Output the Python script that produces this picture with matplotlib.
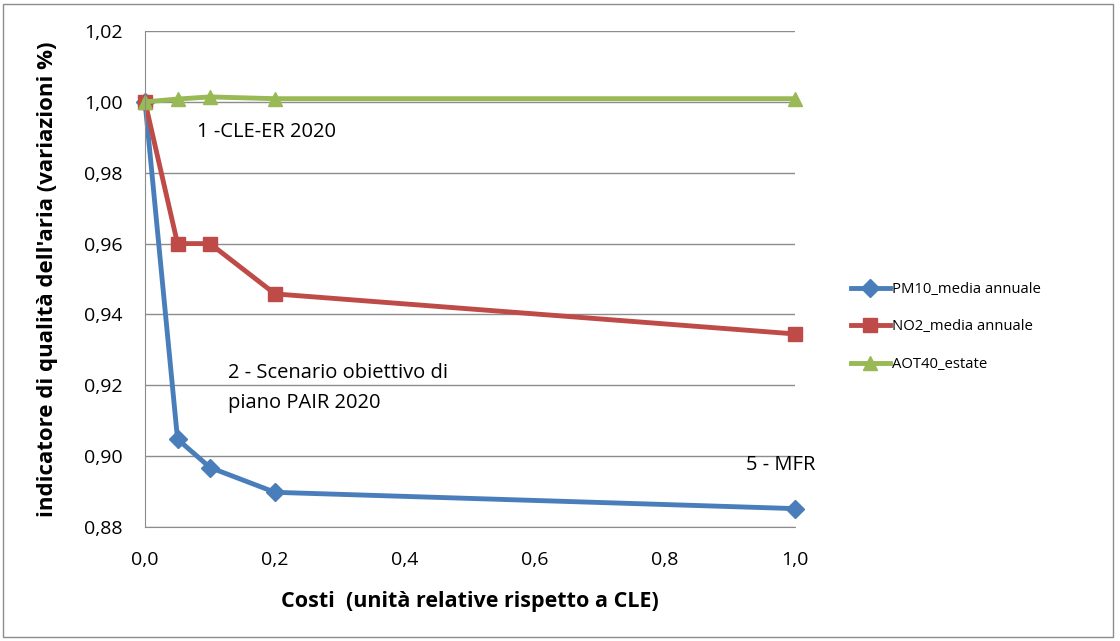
import matplotlib.pyplot as plt
import matplotlib.ticker as mticker
from matplotlib.patches import Rectangle

plt.rcParams["font.family"] = ["Open Sans", "DejaVu Sans"]

costs = [0.0, 0.05, 0.1, 0.2, 1.0]
pm10 = [1.0, 0.9048, 0.8968, 0.8898, 0.8852]
no2 = [1.0, 0.9600, 0.9600, 0.9458, 0.9345]
aot40 = [1.0, 1.0008, 1.0014, 1.0009, 1.0009]

yticks = [0.88, 0.90, 0.92, 0.94, 0.96, 0.98, 1.00, 1.02]
xticks = [0.0, 0.2, 0.4, 0.6, 0.8, 1.0]

fig = plt.figure(figsize=(11.2, 6.41), dpi=100)
ax = fig.add_axes([0.1295, 0.1778, 0.5803, 0.7738])

# figure border
fig.patches.append(Rectangle((0.003, 0.006), 0.991, 0.988, transform=fig.transFigure,
                             fill=False, edgecolor="#8c8c8c", linewidth=1))

ax.plot(costs, pm10, color="#4A7EBB", lw=3.5, marker="D", ms=9, label="PM10_media annuale", clip_on=False)
ax.plot(costs, no2, color="#BE4B48", lw=3.5, marker="s", ms=10, label="NO2_media annuale", clip_on=False)
ax.plot(costs, aot40, color="#98B954", lw=3.5, marker="^", ms=10, label="AOT40_estate", clip_on=False)

ax.set_xlim(0, 1.0)
ax.set_ylim(0.88, 1.02)
ax.set_xticks(xticks)
ax.set_yticks(yticks)
ax.xaxis.set_major_formatter(mticker.FuncFormatter(lambda v, p: f"{v:.1f}".replace(".", ",")))
ax.yaxis.set_major_formatter(mticker.FuncFormatter(lambda v, p: f"{v:.2f}".replace(".", ",")))
ax.tick_params(labelsize=14, length=0)
ax.tick_params(axis="y", pad=16)
ax.tick_params(axis="x", pad=17)
ax.grid(axis="y", color="#8c8c8c", lw=1)
ax.set_axisbelow(True)
for s in ["top", "right"]:
    ax.spines[s].set_visible(False)
for s in ["left", "bottom"]:
    ax.spines[s].set_color("#8c8c8c")

ax.set_xlabel("Costi  (unità relative rispetto a CLE)", fontsize=15.5, fontweight="bold", labelpad=16)
ax.set_ylabel("indicatore di qualità dell'aria (variazioni %)", fontsize=16, fontweight="bold", labelpad=19)

ax.text(0.08, 0.9915, "1 -CLE-ER 2020", fontsize=14.5, va="center")
ax.text(0.128, 0.9235, "2 - Scenario obiettivo di", fontsize=14.5, va="center")
ax.text(0.128, 0.915, "piano PAIR 2020", fontsize=14.5, va="center")
ax.text(0.925, 0.8975, "5 - MFR", fontsize=14.5, va="center")

fig.legend(loc="center left", bbox_to_anchor=(0.748, 0.49), frameon=False, fontsize=10.7,
           handlelength=2.6, labelspacing=1.5, handletextpad=0.15)

fig.savefig("out.png", dpi=100)
